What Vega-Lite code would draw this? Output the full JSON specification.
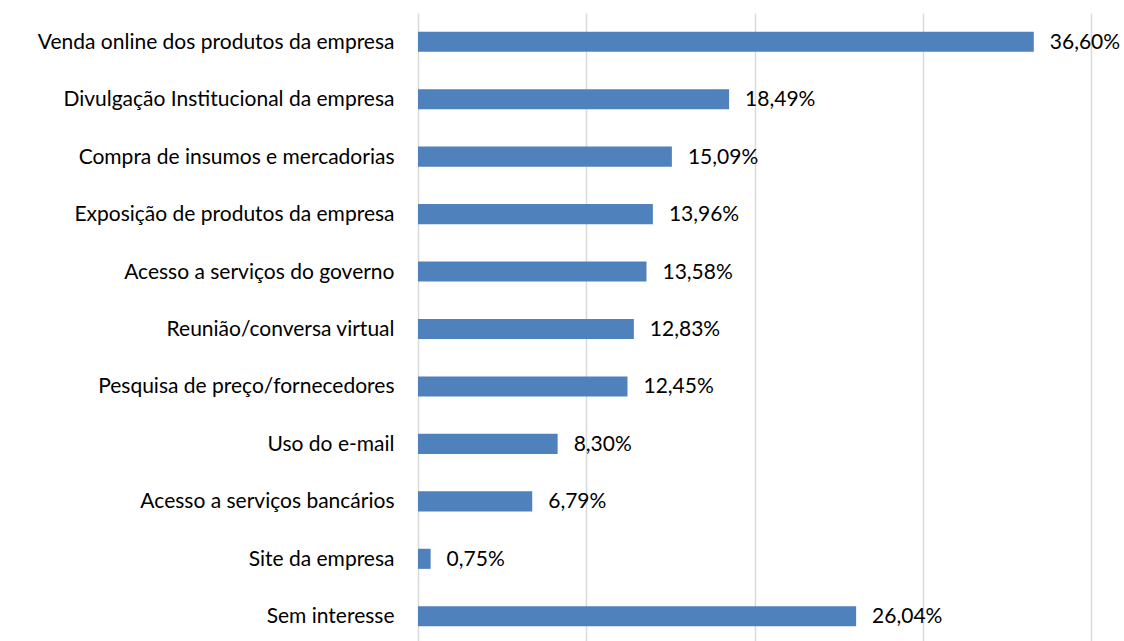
{
  "$schema": "https://vega.github.io/schema/vega-lite/v6.json",
  "autosize": {"type": "none"},
  "padding": {"left": 418, "top": 13, "right": 33, "bottom": 0},
  "width": 673,
  "height": 632,
  "background": "white",
  "config": {
    "view": {"stroke": null},
    "locale": {"number": {"decimal": ",", "thousands": ".", "grouping": [3], "currency": ["", " €"]}},
    "font": "Lato"
  },
  "data": {
    "values": [
      {"cat": "Venda online dos produtos da empresa", "v": 0.3660},
      {"cat": "Divulgação Institucional da empresa", "v": 0.1849},
      {"cat": "Compra de insumos e mercadorias", "v": 0.1509},
      {"cat": "Exposição de produtos da empresa", "v": 0.1396},
      {"cat": "Acesso a serviços do governo", "v": 0.1358},
      {"cat": "Reunião/conversa virtual", "v": 0.1283},
      {"cat": "Pesquisa de preço/fornecedores", "v": 0.1245},
      {"cat": "Uso do e-mail", "v": 0.0830},
      {"cat": "Acesso a serviços bancários", "v": 0.0679},
      {"cat": "Site da empresa", "v": 0.0075},
      {"cat": "Sem interesse", "v": 0.2604}
    ]
  },
  "encoding": {
    "y": {
      "field": "cat", "type": "nominal", "sort": null,
      "scale": {"paddingInner": 0.65, "paddingOuter": 0.325},
      "axis": {"title": null, "ticks": false, "domain": false, "labelFontSize": 21, "labelColor": "#000000", "labelPadding": 24, "labelOffset": 1, "labelLimit": 420, "labelFont": "Lato"}
    },
    "x": {
      "field": "v", "type": "quantitative",
      "scale": {"domain": [0, 0.4], "nice": false},
      "axis": {"title": null, "labels": false, "ticks": false, "domain": false, "values": [0, 0.1, 0.2, 0.3, 0.4], "grid": true, "gridColor": "#d9d9d9", "gridWidth": 1.5}
    }
  },
  "layer": [
    {"mark": {"type": "bar", "color": "#4f81bd"}},
    {
      "mark": {"type": "text", "align": "left", "baseline": "middle", "dx": 16, "dy": 1, "fontSize": 21, "color": "#000000", "font": "Lato"},
      "encoding": {"text": {"field": "v", "type": "quantitative", "format": ".2%"}}
    }
  ]
}
